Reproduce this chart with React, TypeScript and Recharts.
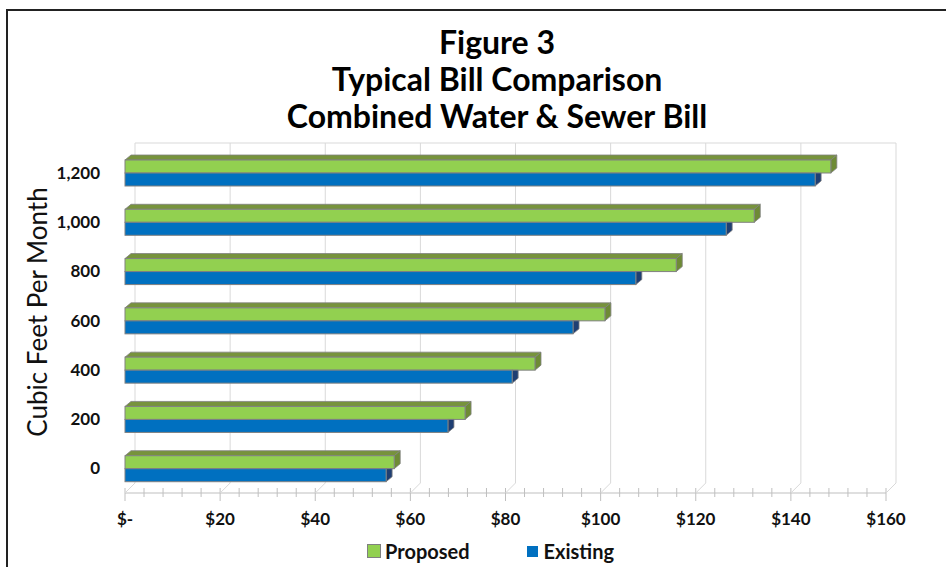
import React from 'react';
import { BarChart, Bar, XAxis, YAxis, CartesianGrid, Legend } from 'recharts';

// ---- data ----
const categories = ['1,200', '1,000', '800', '600', '400', '200', '0'];
const proposedValues = [148.4, 132.3, 115.9, 100.9, 86.2, 71.5, 56.6];
const existingValues = [145.1, 126.4, 107.4, 94.2, 81.4, 67.9, 54.9];
const majorTicks = [0, 20, 40, 60, 80, 100, 120, 140, 160];
const allTicks = [0, 4, 8, 12, 16, 20, 24, 28, 32, 36, 40, 44, 48, 52, 56, 60, 64, 68, 72, 76, 80, 84, 88, 92, 96, 100, 104, 108, 112, 116, 120, 124, 128, 132, 136, 140, 144, 148, 152, 156, 160];
const titleLines = ['Figure 3', 'Typical Bill Comparison', 'Combined Water & Sewer Bill'];
const yAxisTitle = 'Cubic Feet Per Month';
const seriesNames = ['Proposed', 'Existing'];

const data = categories.map((c, i) => ({ cat: c, Proposed: proposedValues[i], Existing: existingValues[i] }));

// ---- style ----
const FONT = 'Lato, "DejaVu Sans", sans-serif';
const W = 946;
const H = 567;
const MARGIN = { top: 148, right: 60, left: 10, bottom: 4 };
const WALL_DX = 10;
const WALL_DY = 10;
const BAR_DX = 6;
const BAR_DY = 5;
const GREEN = '#92D050';
const GREEN_TOP = '#77933C';
const GREEN_SIDE = '#6E8B35';
const BLUE = '#0070C0';
const BLUE_SIDE = '#1F3F73';
const OUTLINE = '#808080';
const GRID = '#d9d9d9';

const fmt = (v: number) => (v === 0 ? '$-' : `$${v}`);

const makeShape = (topFill: string, sideFill: string, drawTop: boolean) => (props: any) => {
  const { x, y, width, height, fill } = props;
  if (width == null || width <= 0) return <g />;
  const r = x + width;
  return (
    <g>
      {drawTop && (
        <polygon
          points={`${x},${y} ${x + BAR_DX},${y - BAR_DY} ${r + BAR_DX},${y - BAR_DY} ${r},${y}`}
          fill={topFill}
          stroke={OUTLINE}
          strokeWidth={0.8}
        />
      )}
      {drawTop ? (
        <polygon
          points={`${r},${y} ${r + BAR_DX},${y - BAR_DY} ${r + BAR_DX},${y + height - BAR_DY} ${r},${y + height}`}
          fill={sideFill}
          stroke={OUTLINE}
          strokeWidth={0.8}
        />
      ) : (
        <polygon
          points={`${r},${y} ${r + BAR_DX},${y} ${r + BAR_DX},${y + height - BAR_DY} ${r},${y + height}`}
          fill={sideFill}
          stroke={OUTLINE}
          strokeWidth={0.8}
        />
      )}
      <rect x={x} y={y} width={width} height={height} fill={fill} stroke={OUTLINE} strokeWidth={1} />
    </g>
  );
};

const proposedShape = makeShape(GREEN_TOP, GREEN_SIDE, true);
const existingShape = makeShape(BLUE, BLUE_SIDE, false);

const XTick = (props: any) => {
  const { x, y, payload } = props;
  const v = payload.value;
  const major = v % 20 === 0;
  return (
    <g>
      <line x1={x} x2={x} y1={y - 5} y2={y + (major ? 8 : 4)} stroke="#bfbfbf" strokeWidth={1} />
      {major && <line x1={x} y1={y} x2={x + WALL_DX} y2={y - WALL_DY} stroke={GRID} strokeWidth={1} />}
      {major && (
        <text x={x} y={y + 32} textAnchor="middle" fontFamily={FONT} fontWeight={700} fontSize={17} fill="#111">
          {fmt(v)}
        </text>
      )}
    </g>
  );
};

const LegendContent = () => (
  <div style={{ display: 'flex', alignItems: 'center', paddingLeft: 357, height: 24, fontFamily: FONT, fontWeight: 700, fontSize: 20, color: '#111' }}>
    <span style={{ display: 'inline-block', width: 12, height: 12, background: GREEN, border: `1px solid ${OUTLINE}`, marginRight: 4 }} />
    <span style={{ marginRight: 57 }}>{seriesNames[0]}</span>
    <span style={{ display: 'inline-block', width: 11, height: 11, background: BLUE, marginRight: 6 }} />
    <span>{seriesNames[1]}</span>
  </div>
);

export default function App() {
  return (
    <div style={{ position: 'absolute', left: 0, top: 0, width: W, height: H, background: '#fff', overflow: 'hidden' }}>
      <div
        style={{
          position: 'absolute',
          left: 6,
          top: 9,
          width: W - 6,
          height: H - 9,
          boxSizing: 'border-box',
          borderLeft: '2px solid #222',
          borderTop: '2px solid #222',
        }}
      />
      <div style={{ position: 'absolute', left: 34, top: 23, width: W - 20, textAlign: 'center', fontFamily: FONT, fontWeight: 700, fontSize: 32, lineHeight: '37px', color: '#000' }}>
        {titleLines.map((t) => (
          <div key={t}>{t}</div>
        ))}
      </div>
      <div
        style={{
          position: 'absolute',
          left: 37,
          top: 312,
          transform: 'translate(-50%, -50%) rotate(-90deg)',
          whiteSpace: 'nowrap',
          fontFamily: FONT,
          fontSize: 26,
          color: '#111',
        }}
      >
        {yAxisTitle}
      </div>
      <div style={{ position: 'absolute', left: 0, top: 0 }}>
        <BarChart width={W} height={H} data={data} layout="vertical" margin={MARGIN} barSize={13} barGap={0}>
          <CartesianGrid
            stroke={GRID}
            x={125 + WALL_DX}
            y={148 - 5}
            width={761}
            height={340}
            verticalCoordinatesGenerator={({ xAxis }: any) => {
              const s = xAxis && xAxis.scale;
              return majorTicks.map((v) => (typeof s === 'function' ? s(v) : s.map(v)) + WALL_DX);
            }}
            horizontalCoordinatesGenerator={() => [148 - 5]}
          />
          <XAxis
            type="number"
            domain={[0, 160]}
            ticks={allTicks}
            interval={0}
            height={46}
            tickSize={0}
            tickMargin={0}
            tickLine={false}
            axisLine={{ stroke: '#bfbfbf' }}
            tick={<XTick />}
          />
          <YAxis
            type="category"
            dataKey="cat"
            width={115}
            tickSize={0}
            tickMargin={25}
            axisLine={false}
            tickLine={false}
            tick={{ fontFamily: FONT, fontWeight: 700, fontSize: 17, fill: '#111' }}
          />
          <Legend verticalAlign="bottom" height={24} content={<LegendContent />} />
          <Bar dataKey="Proposed" fill={GREEN} isAnimationActive={false} shape={proposedShape} />
          <Bar dataKey="Existing" fill={BLUE} isAnimationActive={false} shape={existingShape} />
        </BarChart>
      </div>
    </div>
  );
}
